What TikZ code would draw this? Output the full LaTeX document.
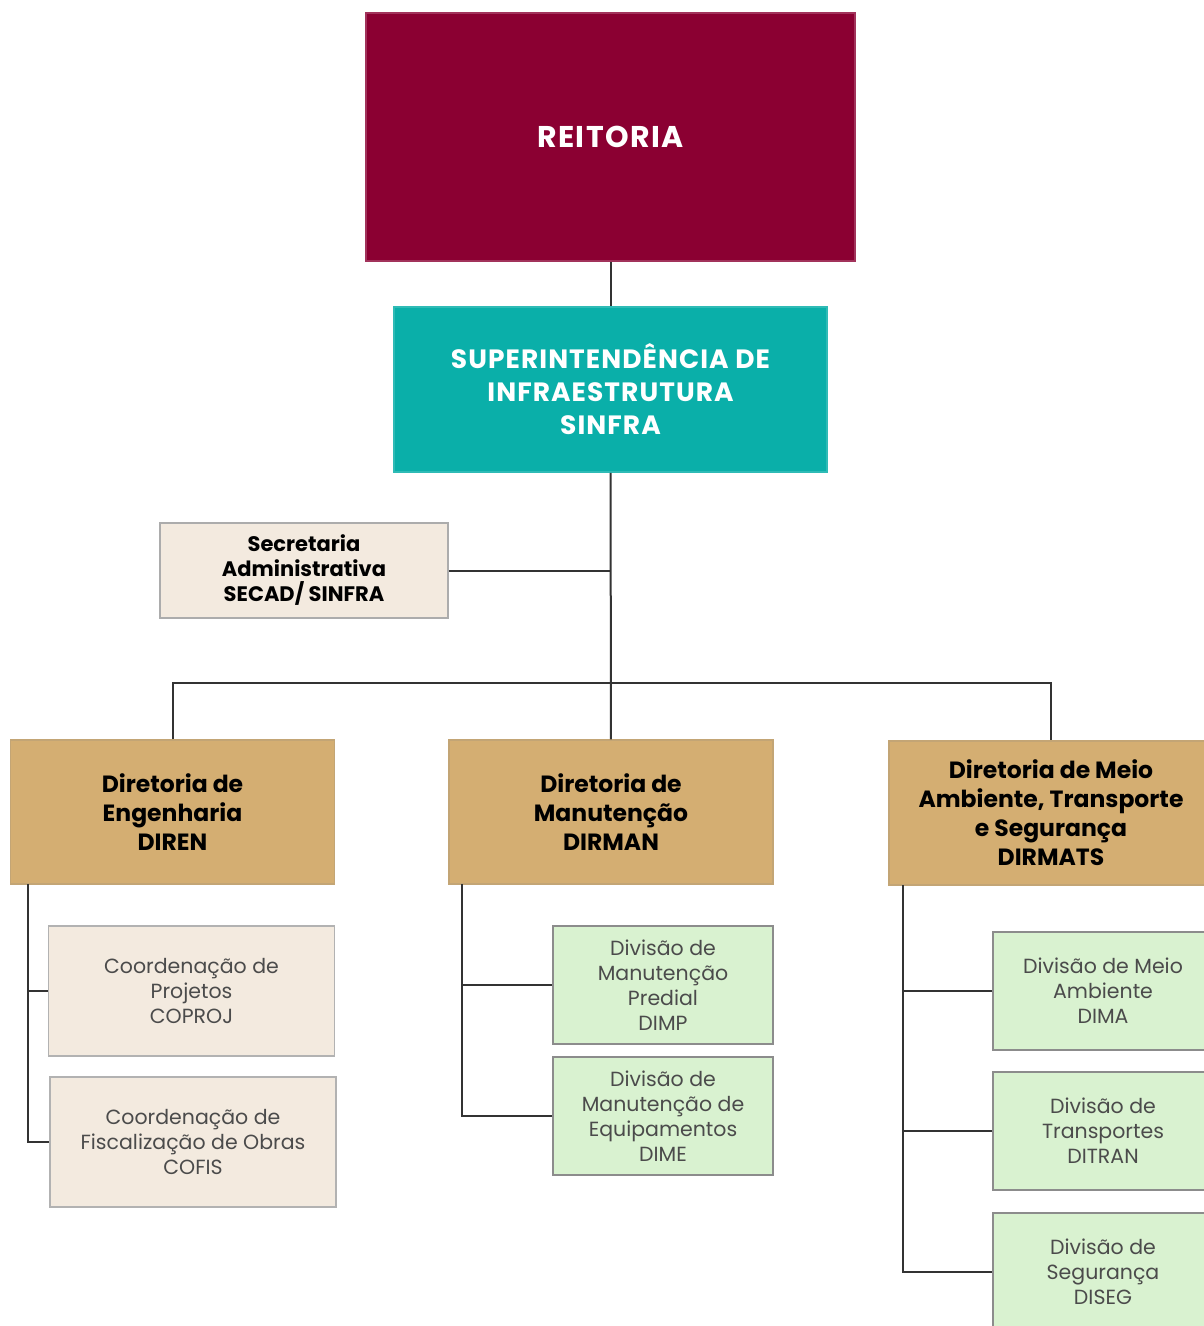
\documentclass[tikz,border=0pt]{standalone}
\usepackage{fontspec}
\setmainfont{Poppins}
\usepackage{xcolor}
\definecolor{Col1}{RGB}{139,0,50}
\definecolor{Col2}{RGB}{10,175,169}
\definecolor{Col3}{RGB}{212,174,114}
\definecolor{Col4}{RGB}{243,234,223}
\definecolor{Col5}{RGB}{217,242,208}
\definecolor{Col6}{RGB}{51,51,51}
\definecolor{Col7}{RGB}{75,75,75}
\usepackage{tikz}
\tikzstyle{Box}=[rectangle,align=center,inner sep=0pt,line width=1.5pt]
\tikzstyle{BoxReit}=[Box,fill=Col1,draw=Col1!80!white,text=white,
minimum width=489pt,minimum height=248pt,
font=\fontsize{30}{34}\selectfont\bfseries\addfontfeatures{LetterSpace=5}]
\tikzstyle{BoxSinfra}=[Box,fill=Col2,draw=Col2!85!white,text=white,
minimum width=433pt,minimum height=165pt,
font=\fontsize{26.5}{33}\selectfont\bfseries\addfontfeatures{LetterSpace=4}]
\tikzstyle{BoxDir}=[Box,fill=Col3,draw=Col3!80!gray,text=black,
minimum width=324pt,minimum height=144pt,font=\fontsize{23.5}{29}\selectfont\bfseries]
\tikzstyle{BoxSec}=[Box,fill=Col4,draw=gray!65,text=black,
minimum width=288pt,minimum height=95pt,font=\fontsize{21}{25}\selectfont\bfseries]
\tikzstyle{BoxCoord}=[Box,fill=Col4,draw=gray!60,text=Col7,
minimum width=286pt,minimum height=130pt,font=\fontsize{20.5}{25}\selectfont]
\tikzstyle{BoxDiv}=[Box,fill=Col5,draw=gray!90,text=Col7,
minimum width=220pt,minimum height=118pt,font=\fontsize{20.5}{25}\selectfont]
\tikzstyle{Edge}=[draw=Col6,line width=2pt]

\begin{document}
\begin{tikzpicture}[x=1pt,y=-1pt]
        \useasboundingbox(0,0)rectangle(1204,1326);
        \clip(0,0)rectangle(1204,1326);
        % top levels
        \node[BoxReit](reit)at(610.5,137){REITORIA};
        \node[BoxSinfra](sinfra)at(610.5,389.5){SUPERINTENDÊNCIA DE\\INFRAESTRUTURA\\SINFRA};
        \node[BoxSec](secad)at(304,570.5){Secretaria\\Administrativa\\SECAD/ SINFRA};
        % directorates
        \node[BoxDir](diren)at(172.5,812){Diretoria de\\Engenharia\\DIREN};
        \node[BoxDir](dirman)at(611,812){Diretoria de\\Manutenção\\DIRMAN};
        \node[BoxDir](dirmats)at(1051,813){Diretoria de Meio\\Ambiente, Transporte\\e Segurança\\DIRMATS};
        % DIREN
        \node[BoxCoord](coproj)at(191.5,991){Coordenação de\\Projetos\\COPROJ};
        \node[BoxCoord](cofis)at(193,1142){Coordenação de\\Fiscalização de Obras\\COFIS};
        % DIRMAN
        \node[BoxDiv](dimp)at(663,985){Divisão de\\Manutenção\\Predial\\DIMP};
        \node[BoxDiv](dime)at(663,1116){Divisão de\\Manutenção de\\Equipamentos\\DIME};
        % DIRMATS
        \node[BoxDiv](dima)at(1103,991){Divisão de Meio\\Ambiente\\DIMA};
        \node[BoxDiv](ditran)at(1103,1131){Divisão de\\Transportes\\DITRAN};
        \node[BoxDiv](diseg)at(1103,1272){Divisão de\\Segurança\\DISEG};
        \coordinate(bus)at(611,683);
        \coordinate(s1)at(28,884);
        \coordinate(s2)at(462,884);
        \coordinate(s3)at(903,885);
        \draw[Edge](reit)--(sinfra);
        \draw[Edge](sinfra)--(dirman);
        \draw[Edge](secad.east)--(secad.east-|sinfra.south);
        \draw[Edge](diren.north)|-(bus)-|(dirmats.north);
        \draw[Edge](s1)|-(coproj.west);
        \draw[Edge](s1)|-(cofis.west);
        \draw[Edge](s2)|-(dimp.west);
        \draw[Edge](s2)|-(dime.west);
        \draw[Edge](s3)|-(dima.west);
        \draw[Edge](s3)|-(ditran.west);
        \draw[Edge](s3)|-(diseg.west);
    \end{tikzpicture}
\end{document}
